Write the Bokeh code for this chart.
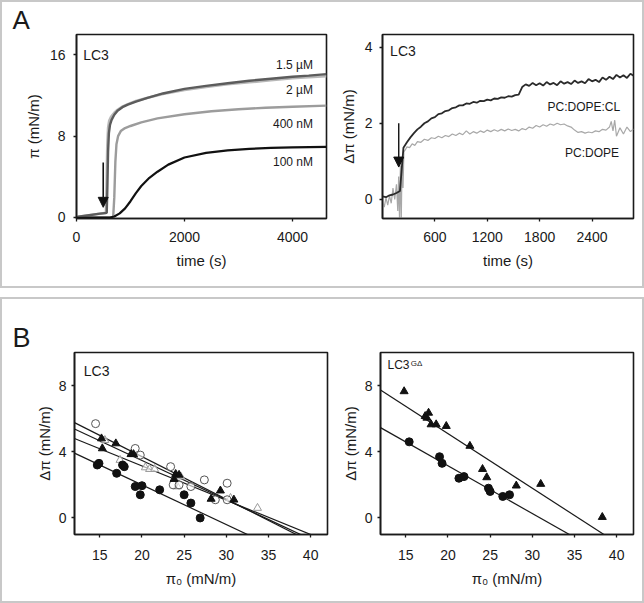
from bokeh.plotting import figure
from bokeh.models import Label, Arrow, NormalHead, FixedTicker, Range1d, Row, Column, Spacer
from bokeh.embed import file_html
from bokeh.resources import INLINE

FONT = "Liberation Sans"

# ---------------- Panel A, left: surface pressure vs time ----------------
a1_t_15uM = [0, 200, 400, 560, 572, 585, 600, 620, 650, 700, 760, 850, 950, 1100, 1300, 1600, 2000, 2400, 2800, 3200, 3600, 4000, 4300, 4630]
a1_pi_15uM = [0.05, 0.2, 0.35, 0.45, 3.0, 6.5, 8.3, 9.1, 9.6, 10.1, 10.5, 10.85, 11.1, 11.4, 11.75, 12.2, 12.65, 12.95, 13.2, 13.45, 13.65, 13.85, 13.95, 14.1]
a1_t_2uM = [0, 200, 400, 545, 558, 570, 585, 605, 640, 700, 760, 850, 950, 1100, 1300, 1600, 2000, 2400, 2800, 3200, 3600, 4000, 4300, 4630]
a1_pi_2uM = [0.05, 0.2, 0.35, 0.45, 3.5, 7.0, 8.8, 9.5, 9.9, 10.3, 10.6, 10.9, 11.15, 11.45, 11.75, 12.15, 12.55, 12.85, 13.1, 13.3, 13.5, 13.7, 13.8, 13.9]
a1_t_400nM = [0, 640, 680, 700, 720, 740, 770, 820, 900, 1000, 1200, 1500, 2000, 2500, 3000, 3500, 4000, 4630]
a1_pi_400nM = [0.0, 0.0, 0.1, 2.0, 5.5, 7.2, 8.0, 8.5, 8.8, 9.0, 9.35, 9.75, 10.15, 10.45, 10.65, 10.8, 10.9, 11.0]
a1_t_100nM = [0, 620, 700, 800, 900, 1000, 1100, 1200, 1350, 1500, 1700, 2000, 2400, 2800, 3200, 3600, 4000, 4630]
a1_pi_100nM = [0.0, 0.0, 0.1, 0.4, 0.9, 1.6, 2.4, 3.1, 3.9, 4.5, 5.2, 5.9, 6.35, 6.6, 6.75, 6.85, 6.9, 6.95]
a1_labels = ["1.5 \u00b5M", "2 \u00b5M", "400 nM", "100 nM"]
a1_label_y = [15.0, 12.5, 9.2, 5.5]
a1_arrow_t = 495
a1_arrow_y = [5.4, 1.0]

# ---------------- Panel A, right: delta pi vs time ----------------
a2_cl_step = 40
a2_pi_cl = [0.08, 0.06, 0.11, 0.13, 0.17, 0.22, 1.36, 1.50, 1.63, 1.74, 1.84, 1.91, 2.00, 2.05, 2.13, 2.16,
            2.24, 2.26, 2.32, 2.34, 2.40, 2.42, 2.47, 2.47, 2.52, 2.51, 2.56, 2.54, 2.59, 2.58, 2.62, 2.60,
            2.65, 2.64, 2.68, 2.67, 2.71, 2.70, 2.74, 2.75, 2.95, 3.02, 2.98, 3.06, 3.00, 3.05, 2.99, 3.08,
            3.02, 3.06, 3.00, 3.10, 3.04, 3.08, 3.03, 3.12, 3.06, 3.10, 3.05, 3.16, 3.10, 3.14, 3.08, 3.20,
            3.14, 3.22, 3.16, 3.27, 3.20, 3.26, 3.19, 3.30, 3.24]
a2_t_pe = [0, 20, 40, 60, 80, 100, 120, 140, 160, 175, 185, 195, 205, 215, 225, 235, 245, 260, 280, 310,
           340, 370, 400, 440, 480, 520, 560, 600, 640, 680, 720, 760, 800, 840, 880, 920, 960, 1000, 1040,
           1080, 1120, 1160, 1200, 1240, 1280, 1320, 1360, 1400, 1440, 1480, 1520, 1560, 1600, 1640, 1680,
           1720, 1760, 1800, 1840, 1880, 1920, 1960, 2000, 2040, 2080, 2120, 2160, 2200, 2240, 2280, 2320,
           2360, 2400, 2440, 2480, 2520, 2560, 2600, 2620, 2640, 2660, 2680, 2720, 2760, 2800, 2840, 2875]
a2_pi_pe = [-0.05, -0.20, 0.05, -0.15, 0.10, -0.10, 0.30, 0.00, 0.40, -0.30, 0.60, -0.55, 0.90, -0.55, 1.10, 0.30, 1.25, 1.30, 1.38, 1.36,
            1.46, 1.42, 1.52, 1.50, 1.58, 1.55, 1.62, 1.60, 1.66, 1.62, 1.68, 1.65, 1.72, 1.68, 1.74, 1.70, 1.80, 1.72, 1.78,
            1.74, 1.80, 1.76, 1.82, 1.78, 1.83, 1.79, 1.84, 1.80, 1.85, 1.81, 1.84, 1.80, 1.86, 1.83, 1.90,
            1.87, 1.94, 1.90, 1.96, 1.92, 1.98, 1.95, 2.00, 1.96, 1.98, 1.93, 1.90, 1.82, 1.76, 1.78, 1.74,
            1.77, 1.75, 1.80, 1.78, 1.84, 1.82, 1.90, 2.05, 1.80, 2.08, 1.66, 1.88, 1.72, 1.90, 1.78, 1.85]
a2_labels = ["PC:DOPE:CL", "PC:DOPE"]
a2_label_y = [2.42, 1.22]
a2_arrow_t = 186
a2_arrow_y = [2.0, 0.85]

# ---------------- Panel B, left: LC3 ----------------
b1_fc_x = [14.7, 14.9, 17.7, 17.9, 17.0, 19.2, 20.0, 19.8, 22.1, 25.0, 25.8, 26.9]
b1_fc_y = [3.2, 3.3, 3.2, 3.1, 2.7, 1.9, 1.95, 1.4, 1.7, 1.4, 0.9, 0.0]
b1_ft_x = [15.2, 16.9, 15.3, 18.7, 19.0, 24.0, 23.8, 24.4, 29.3, 28.2, 30.9]
b1_ft_y = [4.8, 4.5, 4.2, 3.85, 3.85, 2.65, 2.35, 2.6, 1.65, 1.15, 1.1]
b1_oc_x = [14.5, 19.2, 19.8, 23.4, 23.7, 24.4, 25.8, 27.4, 30.1, 28.7, 30.1]
b1_oc_y = [5.7, 4.2, 3.8, 3.1, 2.0, 2.0, 1.9, 2.3, 2.1, 1.1, 1.1]
b1_ot_x = [15.6, 17.4, 20.4, 20.9, 21.5, 24.2, 24.6, 30.5, 33.7]
b1_ot_y = [4.7, 3.5, 3.05, 2.95, 2.95, 1.9, 2.5, 1.2, 0.6]
b1_fit_intercept = [8.844, 8.236, 7.285, 6.80]
b1_fit_slope = [-0.257, -0.238, -0.2071, -0.24]

# ---------------- Panel B, right: LC3 G-delta ----------------
b2_t_x = [14.8, 17.3, 17.7, 17.5, 18.0, 18.6, 19.8, 22.6, 24.1, 24.6, 28.1, 31.0, 38.3]
b2_t_y = [7.65, 6.15, 6.35, 6.05, 5.65, 5.65, 5.55, 4.35, 2.95, 2.45, 1.95, 2.05, 0.05]
b2_c_x = [15.4, 19.0, 19.3, 21.3, 21.9, 24.8, 25.0, 26.5, 27.3]
b2_c_y = [4.6, 3.7, 3.3, 2.4, 2.5, 1.8, 1.6, 1.3, 1.4]
b2_fit_intercept = [11.68, 8.92]
b2_fit_slope = [-0.3294, -0.2884]

PI0_RANGE = [12, 42]


def make_fig(w, h, xr, yr, mbl, mbr, mbt, mbb, xticks, yticks, xlabel, ylabel,
             xstand=10, ystand=8, xlstand=7, ylstand=5):
    p = figure(width=w, height=h, x_range=Range1d(*xr), y_range=Range1d(*yr),
               output_backend="svg", toolbar_location=None,
               min_border_left=mbl, min_border_right=mbr, min_border_top=mbt, min_border_bottom=mbb)
    p.grid.visible = False
    p.border_fill_color = None
    p.background_fill_color = "white"
    p.outline_line_color = "#1a1a1a"
    p.outline_line_width = 1.6
    p.outline_line_alpha = 1.0
    for ax, ticks, lab, st, lst in ((p.xaxis[0], xticks, xlabel, xstand, xlstand),
                                    (p.yaxis[0], yticks, ylabel, ystand, ylstand)):
        ax.ticker = FixedTicker(ticks=ticks)
        ax.axis_line_color = "#1a1a1a"
        ax.axis_line_width = 1.6
        ax.major_tick_line_color = "#1a1a1a"
        ax.major_tick_line_width = 1.3
        ax.major_tick_out = 3
        ax.major_tick_in = 0
        ax.minor_tick_out = 0
        ax.minor_tick_in = 0
        ax.major_label_text_font = FONT
        ax.major_label_text_font_size = "14px"
        ax.major_label_text_color = "#1a1a1a"
        ax.major_label_standoff = st
        ax.axis_label = lab
        ax.axis_label_text_font = FONT
        ax.axis_label_text_font_size = "15px"
        ax.axis_label_text_font_style = "normal"
        ax.axis_label_text_color = "#1a1a1a"
        ax.axis_label_standoff = lst
    return p


def add_text(p, x, y, text, size, align="left", baseline="middle", color="#1a1a1a"):
    p.add_layout(Label(x=x, y=y, text=text, text_font=FONT, text_font_size=size,
                       text_align=align, text_baseline=baseline, text_color=color))


def panel_letter(p, letter, size, offset):
    p.title.text = letter
    p.title.text_font = FONT
    p.title.text_font_size = size
    p.title.text_font_style = "normal"
    p.title.text_color = "#1a1a1a"
    p.title.align = "left"
    p.title.offset = offset
    p.title.standoff = 0


# ---- figure 1 ----
p1 = make_fig(336, 288, (0, 4630), (-0.1, 18.0), 76, 10, 34, 70,
              [0, 2000, 4000], [0, 8, 16], "time (s)", "\u03c0 (mN/m)")
p1.line(a1_t_2uM, a1_pi_2uM, line_color="#b8b8b8", line_width=2.6)
p1.line(a1_t_15uM, a1_pi_15uM, line_color="#5c5c5c", line_width=2.4)
p1.line(a1_t_400nM, a1_pi_400nM, line_color="#9c9c9c", line_width=2.4)
p1.line(a1_t_100nM, a1_pi_100nM, line_color="#111111", line_width=2.2)
for lab, ly in zip(a1_labels, a1_label_y):
    add_text(p1, 4380, ly, lab, "12px", align="right")
add_text(p1, 124, 16.0, "LC3", "14px")
p1.add_layout(Arrow(end=NormalHead(size=10, fill_color="#111111", line_color="#111111"),
                    x_start=a1_arrow_t, y_start=a1_arrow_y[0], x_end=a1_arrow_t, y_end=a1_arrow_y[1],
                    line_color="#111111", line_width=1.6))
panel_letter(p1, "A", "26px", -64)

# ---- figure 2 ----
p2 = make_fig(308, 288, (0, 2875), (-0.5, 4.33), 45, 11, 34, 70,
              [600, 1200, 1800, 2400], [0, 2, 4], "time (s)", "\u0394\u03c0 (mN/m)", ystand=7, ylstand=5)
a2_t_cl = [a2_cl_step * i for i in range(len(a2_pi_cl))]
p2.line(a2_t_pe, a2_pi_pe, line_color="#a8a8a8", line_width=1.2)
p2.line(a2_t_cl, a2_pi_cl, line_color="#2a2a2a", line_width=1.8)
add_text(p2, 2722, a2_label_y[0], a2_labels[0], "12px", align="right")
add_text(p2, 2710, a2_label_y[1], a2_labels[1], "12px", align="right")
add_text(p2, 87, 3.91, "LC3", "14px")
p2.add_layout(Arrow(end=NormalHead(size=10, fill_color="#111111", line_color="#111111"),
                    x_start=a2_arrow_t, y_start=a2_arrow_y[0], x_end=a2_arrow_t, y_end=a2_arrow_y[1],
                    line_color="#111111", line_width=1.4))

# ---- figure 3 ----
p3 = make_fig(336, 306, (12, 42), (-1, 10), 74, 9, 55, 69,
              [15, 20, 25, 30, 35, 40], [0, 4, 8], "\u03c0\u2080 (mN/m)", "\u0394\u03c0 (mN/m)",
              xstand=12, ystand=5, xlstand=7, ylstand=3)
for a, b in zip(b1_fit_intercept, b1_fit_slope):
    p3.line(PI0_RANGE, [a + b * x for x in PI0_RANGE], line_color="#1a1a1a", line_width=1.2)
p3.scatter(b1_ot_x, b1_ot_y, marker="triangle", size=8, fill_color="white", fill_alpha=0.6,
           line_color="#9a9a9a", line_width=1)
p3.scatter(b1_oc_x, b1_oc_y, marker="circle", size=8, fill_color="white", fill_alpha=0.6,
           line_color="#555555", line_width=1)
p3.scatter(b1_ft_x, b1_ft_y, marker="triangle", size=8, fill_color="#111111", line_color="#111111")
p3.scatter(b1_fc_x, b1_fc_y, marker="circle", size=8, fill_color="#111111", line_color="#111111")
add_text(p3, 13.1, 8.9, "LC3", "14px")
panel_letter(p3, "B", "27px", -62)

# ---- figure 4 ----
p4 = make_fig(308, 306, (12, 42), (-1, 10), 44, 11, 55, 69,
              [15, 20, 25, 30, 35, 40], [0, 4, 8], "\u03c0\u2080 (mN/m)", "\u0394\u03c0 (mN/m)",
              xstand=12, ystand=5, xlstand=7, ylstand=3)
for a, b in zip(b2_fit_intercept, b2_fit_slope):
    p4.line(PI0_RANGE, [a + b * x for x in PI0_RANGE], line_color="#1a1a1a", line_width=1.2)
p4.scatter(b2_t_x, b2_t_y, marker="triangle", size=8, fill_color="#111111", line_color="#111111")
p4.scatter(b2_c_x, b2_c_y, marker="circle", size=8, fill_color="#111111", line_color="#111111")
add_text(p4, 12.83, 9.25, "LC3", "12px")
add_text(p4, 15.6, 9.36, "G\u0394", "8px")

box = {"box-shadow": "inset 0 0 0 2px #c8c8c8"}
row_a = Row(children=[p1, p2], styles=box)
row_b = Row(children=[p3, p4], styles=box)
layout = Column(children=[row_a, Spacer(width=644, height=9), row_b])

open("out.html", "w").write(file_html(layout, INLINE))
